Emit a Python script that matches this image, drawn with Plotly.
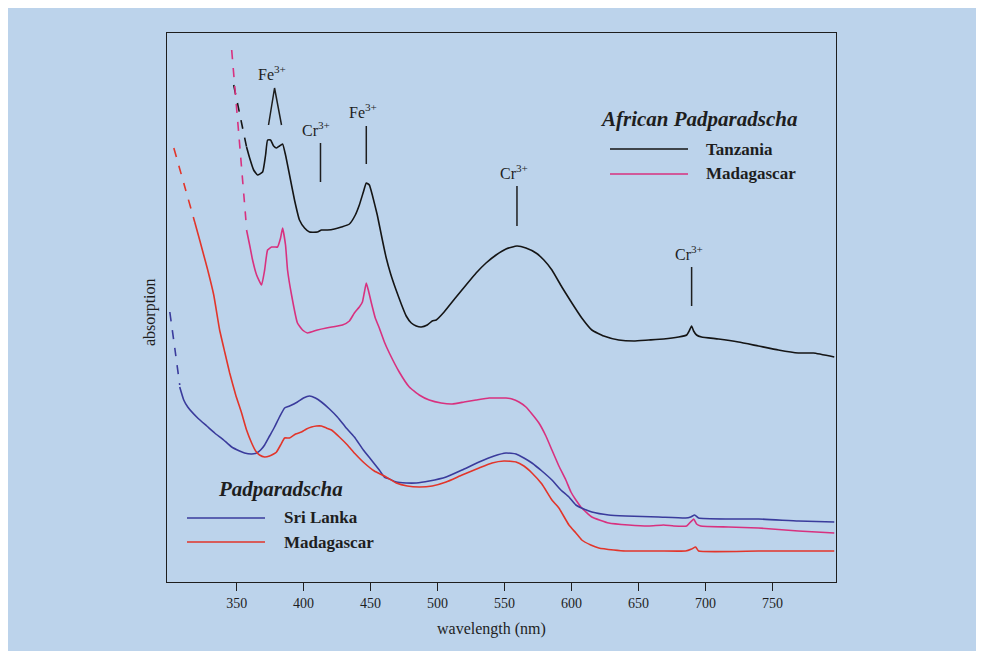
import plotly.graph_objects as go

# ---------------- data (wavelength nm, absorption arbitrary units) ----------------
tz_dash_wl = [347.8, 352.6, 357.4]
tz_dash_a = [499, 468, 437]
tz_wl = [357.4, 359.7, 362.7, 365.6, 369.4, 371.6, 373.1, 375.3, 377.6, 379.8, 382.0, 384.3,
         386.5, 389.5, 393.2, 396.9, 400.7, 404.4, 410.3, 413.3, 417.8, 423.0, 428.2, 434.2,
         438.6, 441.6, 444.6, 446.8, 449.1, 451.3, 455.0, 458.8, 461.7, 465.0, 468.5, 472.9,
         476.6, 480.4, 484.1, 487.8, 492.3, 496.0, 499.0, 504.9, 513.9, 521.3, 528.8, 536.2,
         543.7, 551.1, 559.3, 566.0, 573.5, 579.4, 585.4, 592.8, 600.3, 607.7, 615.2, 624.1,
         635.3, 646.5, 657.6, 668.8, 680.0, 686.0, 688.2, 689.7, 691.2, 693.4, 697.1, 709.8,
         724.7, 739.6, 754.5, 769.4, 780.6, 796.2]
tz_a = [437, 426, 414, 409, 412, 429, 444, 444, 438, 436, 438, 440,
        429, 409, 384, 364, 356, 352, 352, 354, 354, 355, 357, 360,
        369, 379, 392, 401, 399, 389, 369, 344, 326, 310, 296, 280,
        268, 261, 258, 257, 259, 263, 264, 272, 287, 299, 311, 321,
        329, 335, 338, 336, 331, 324, 314, 297, 281, 266, 254, 248,
        244, 243, 244, 245, 247, 249, 254, 258, 253, 249, 247, 245,
        242, 238, 234, 231, 231, 227]

mgA_dash_wl = [346.3, 351.9, 357.4]
mgA_dash_a = [534, 445, 356]
mgA_wl = [357.4, 359.7, 361.9, 364.9, 368.6, 370.9, 373.1, 376.1, 378.3, 380.5, 382.8, 384.3,
          386.5, 388.0, 391.0, 395.4, 399.2, 402.9, 410.3, 417.0, 429.0, 434.2, 437.9, 441.6,
          443.9, 445.4, 446.8, 448.3, 450.6, 453.5, 456.5, 460.3, 464.0, 471.4, 478.9, 486.3,
          493.8, 502.7, 510.9, 519.8, 528.8, 538.5, 545.9, 551.1, 555.6, 560.8, 566.0, 570.5,
          575.7, 580.9, 585.4, 590.6, 595.8, 599.6, 603.3, 607.7, 615.2, 627.8, 642.7, 657.6,
          668.8, 676.3, 686.0, 688.9, 691.2, 693.4, 696.4, 717.2, 739.6, 769.4, 796.2]
mgA_a = [354, 339, 324, 309, 299, 314, 334, 337, 337, 337, 346, 356,
         339, 314, 289, 261, 254, 251, 254, 256, 259, 263, 271, 277,
         282, 292, 301, 294, 281, 266, 256, 242, 231, 212, 197, 189,
         184, 181, 180, 182, 184, 186, 186, 186, 185, 182, 177, 170,
         161, 148, 134, 118, 104, 92, 84, 76, 67, 61, 59, 58,
         59, 58, 58, 62, 65, 60, 58, 57, 56, 53, 51]

sl_dash_wl = [300.1, 303.8, 307.5]
sl_dash_a = [272, 236, 199]
sl_wl = [307.5, 310.5, 313.5, 320.9, 327.7, 333.6, 340.3, 346.3, 352.2, 355.9, 361.2, 364.9,
         367.9, 370.9, 374.6, 378.3, 382.0, 385.8, 389.5, 395.4, 399.9, 404.4, 408.8, 413.3,
         419.3, 425.2, 431.2, 437.9, 444.6, 450.6, 456.5, 460.3, 464.0, 469.2, 476.6, 484.1,
         493.8, 506.4, 518.3, 531.0, 542.2, 551.1, 558.6, 564.5, 570.5, 577.9, 585.4, 592.1,
         598.1, 603.3, 609.2, 615.2, 627.8, 640.5, 665.1, 685.2, 689.0, 692.0, 694.9, 717.2,
         739.6, 769.4, 796.2]
sl_a = [197, 184, 177, 166, 158, 151, 144, 137, 133, 131, 130, 131,
        134, 139, 148, 157, 167, 176, 178, 182, 186, 188, 186, 182,
        175, 167, 157, 147, 134, 124, 114, 107, 105, 102, 101, 101,
        103, 107, 114, 122, 128, 131, 130, 126, 121, 113, 104, 94,
        87, 79, 75, 72, 69, 68, 67, 66, 67, 69, 66, 65,
        65, 63, 62]

mgP_dash_wl = [303.1, 310.9, 318.7]
mgP_dash_a = [436, 399, 362]
mgP_wl = [318.7, 322.4, 325.4, 328.4, 332.9, 337.3, 341.1, 344.8, 349.3, 353.7, 357.4, 361.2,
          364.2, 367.1, 370.9, 374.6, 377.6, 379.8, 382.8, 385.8, 389.5, 394.0, 398.4, 402.1,
          405.9, 409.6, 413.3, 417.0, 420.8, 426.7, 432.7, 438.6, 445.3, 452.8, 460.3, 469.2,
          477.4, 486.3, 496.0, 506.4, 518.3, 531.0, 540.7, 549.6, 558.6, 564.5, 570.5, 577.9,
          585.4, 590.6, 598.1, 603.3, 607.7, 614.4, 620.4, 631.6, 640.5, 665.1, 685.2, 689.7,
          692.7, 694.9, 739.6, 796.2]
mgP_a = [362, 344, 329, 314, 289, 254, 232, 211, 189, 171, 154, 141,
         133, 129, 127, 128, 130, 132, 139, 146, 146, 150, 152, 155,
         157, 158, 158, 156, 154, 147, 139, 130, 121, 113, 108, 101,
         98, 97, 98, 102, 109, 116, 121, 123, 122, 118, 111, 100,
         84, 76, 59, 51, 44, 39, 36, 34, 33, 33, 33, 35,
         37, 33, 33, 33]

x_ticks = [350, 400, 450, 500, 550, 600, 650, 700, 750]

# band labels: text, label wl, label absorption, line wl, line bottom, line top
band_text = ["Cr<sup>3+</sup>", "Fe<sup>3+</sup>", "Cr<sup>3+</sup>", "Cr<sup>3+</sup>"]
band_lab_wl = [409.6, 444.6, 557.1, 687.5]
band_lab_a = [455, 473, 412, 331]
band_line_wl = [412.6, 446.8, 559.3, 689.7]
band_line_lo = [402, 420, 358, 278]
band_line_hi = [441, 458, 398, 317]
fe_v_wl = [373.8, 378.3, 383.5]
fe_v_a = [459, 496, 459]
fe_lab = (376.1, 511)

# ---------------- style ----------------
BG = "#bcd3eb"
INK = "#1e1e1e"
C_TZ = "#151515"
C_MGA = "#d8317f"
C_SL = "#3a3b9c"
C_MGP = "#e2352a"
SERIF = "Liberation Serif, Times New Roman, serif"

fig = go.Figure()

def add(wl, a, color, dash=None):
    fig.add_trace(go.Scatter(x=wl, y=a, mode="lines", showlegend=False, hoverinfo="skip",
                             line=dict(color=color, width=1.6, dash=dash or "solid",
                                       shape="spline", smoothing=0.4)))

add(tz_dash_wl, tz_dash_a, C_TZ, "dash")
add(tz_wl, tz_a, C_TZ)
add(mgA_dash_wl, mgA_dash_a, C_MGA, "dash")
add(mgA_wl, mgA_a, C_MGA)
add(sl_dash_wl, sl_dash_a, C_SL, "dash")
add(sl_wl, sl_a, C_SL)
add(mgP_dash_wl, mgP_dash_a, C_MGP, "dash")
add(mgP_wl, mgP_a, C_MGP)

# band marker lines
fig.add_trace(go.Scatter(x=fe_v_wl, y=fe_v_a, mode="lines", showlegend=False, hoverinfo="skip",
                         line=dict(color=INK, width=1.5)))
for lw, lo, hi in zip(band_line_wl, band_line_lo, band_line_hi):
    fig.add_trace(go.Scatter(x=[lw, lw], y=[lo, hi], mode="lines", showlegend=False,
                             hoverinfo="skip", line=dict(color=INK, width=1.5)))

annos = []
annos.append(dict(x=fe_lab[0], y=fe_lab[1], xref="x", yref="y", text="Fe<sup>3+</sup>",
                  showarrow=False, font=dict(family=SERIF, size=16, color=INK)))
for t, x, y in zip(band_text, band_lab_wl, band_lab_a):
    annos.append(dict(x=x, y=y, xref="x", yref="y", text=t, showarrow=False,
                      font=dict(family=SERIF, size=16, color=INK)))

# page-pixel -> paper helpers for layout furniture (plot area on page: 167..836 x 33..582)
L, R, T, B = 167, 836, 33, 582
OFF = 8  # default page margin of the html body
W, H = 984 - 2 * OFF + 2, 651 - OFF
def PX(p):
    return (p - L) / (R - L)
def PY(p):
    return (B - p) / (B - T)

def txt(x, y, s, size, anchor="center", angle=0):
    annos.append(dict(x=PX(x), y=PY(y), xref="paper", yref="paper", text=s, showarrow=False,
                      xanchor=anchor, yanchor="middle", textangle=angle,
                      font=dict(family=SERIF, size=size, color=INK)))

txt(698, 119, "<b><i>African Padparadscha</i></b>", 21)
txt(704, 149, "<b>Tanzania</b>", 17, "left")
txt(704, 174, "<b>Madagascar</b>", 17, "left")
txt(280, 489, "<b><i>Padparadscha</i></b>", 21)
txt(282, 518, "<b>Sri Lanka</b>", 17, "left")
txt(282, 542, "<b>Madagascar</b>", 17, "left")
txt(491, 629, "wavelength (nm)", 16)
txt(150, 312, "absorption", 16, angle=-90)

shapes = []
def hline(x0, x1, y, color):
    shapes.append(dict(type="line", xref="paper", yref="paper", x0=PX(x0), x1=PX(x1),
                       y0=PY(y), y1=PY(y), line=dict(color=color, width=1.6)))
hline(610, 688, 149, C_TZ)
hline(610, 688, 174, C_MGA)
hline(187, 265, 518, C_SL)
hline(187, 265, 542, C_MGP)

fig.update_layout(
    width=W, height=H,
    margin=dict(l=L - OFF, r=W - (R - OFF), t=T - OFF, b=H - (B - OFF), pad=0),
    paper_bgcolor=BG, plot_bgcolor=BG,
    showlegend=False,
    annotations=annos, shapes=shapes,
    font=dict(family=SERIF, color=INK),
)
fig.update_xaxes(range=[298, 797.5], tickvals=x_ticks, ticktext=[str(v) for v in x_ticks],
                 ticks="outside", ticklen=8, tickwidth=1.2, tickcolor=INK,
                 showline=True, linecolor=INK, linewidth=1.4, mirror=True,
                 showgrid=False, zeroline=False,
                 tickfont=dict(family=SERIF, size=14, color=INK))
fig.update_yaxes(range=[2, 551], showticklabels=False, ticks="",
                 showline=True, linecolor=INK, linewidth=1.4, mirror=True,
                 showgrid=False, zeroline=False)

fig.write_html("out.html")
